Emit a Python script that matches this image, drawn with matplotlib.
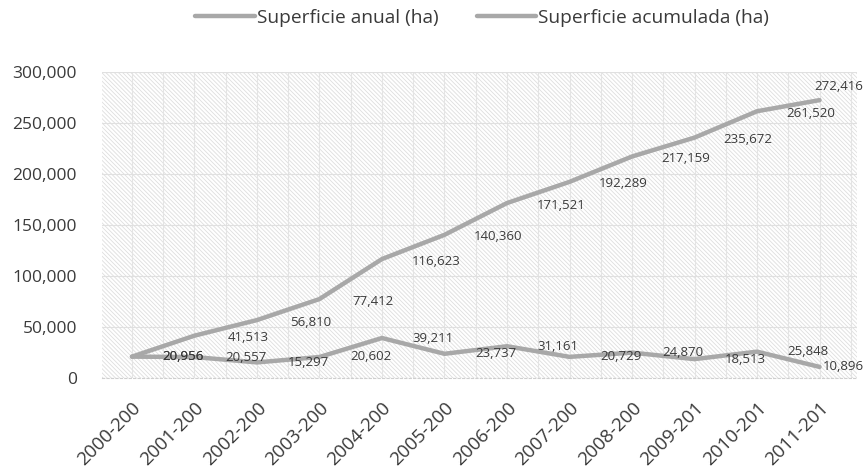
import matplotlib
matplotlib.use("Agg")
import matplotlib.pyplot as plt
from matplotlib.patches import Rectangle
from matplotlib.ticker import FuncFormatter, MultipleLocator

# data
periodos = ["2000-200", "2001-200", "2002-200", "2003-200", "2004-200", "2005-200",
            "2006-200", "2007-200", "2008-200", "2009-201", "2010-201", "2011-201"]
anual = [20956, 20557, 15297, 20602, 39211, 23737, 31161, 20729, 24870, 18513, 25848, 10896]
acumulada = [20956, 41513, 56810, 77412, 116623, 140360, 171521, 192289, 217159,
             235672, 261520, 272416]

plt.rcParams["font.family"] = ["Open Sans", "DejaVu Sans"]
plt.rcParams["hatch.linewidth"] = 0.6

gris = "#a8a8a8"
texto = "#3a3a3a"

fig = plt.figure(figsize=(8.67, 4.69), dpi=100)
ax = fig.add_axes([0.1176, 0.194, 0.8709, 0.6525])

# hatched plot background
fondo = Rectangle((0, 0), 1, 1, transform=ax.transAxes, facecolor="white",
                  edgecolor="#dedede", hatch="\\" * 8, lw=0, zorder=0)
ax.add_patch(fondo)

x = list(range(len(periodos)))
l1, = ax.plot(x, anual, color=gris, lw=3.2, solid_capstyle="round", zorder=3)
l2, = ax.plot(x, acumulada, color=gris, lw=3.2, solid_capstyle="round", zorder=3)

# data labels sit to the right of each point, like in the original
n = len(x)
for i, v in enumerate(anual):
    if i < n - 1:
        ax.text(i + 0.82, v, f"{v:,}", ha="center", va="center", fontsize=9.5, color=texto, zorder=4)
    else:
        ax.text(i + 0.05, v, f"{v:,}", ha="left", va="center", fontsize=9.5, color=texto, zorder=4)
for i, v in enumerate(acumulada):
    if i == 0:
        ax.text(i + 0.82, v, f"{v:,}", ha="center", va="center", fontsize=9.5, color=texto, zorder=4)
    elif i < n - 1:
        ax.text(i + 0.86, v - 2000, f"{v:,}", ha="center", va="center", fontsize=9.5, color=texto, zorder=4)
    else:
        ax.text(i - 0.08, v + 13000, f"{v:,}", ha="left", va="center", fontsize=9.5, color=texto, zorder=4)

ax.set_xlim(-0.48, 11.6)
ax.set_ylim(0, 300000)
ax.yaxis.set_major_locator(MultipleLocator(50000))
ax.yaxis.set_major_formatter(FuncFormatter(lambda v, p: f"{int(v):,}"))
ax.set_xticks(x)
ax.set_xticklabels(periodos, rotation=45, ha="right", va="top", rotation_mode="anchor")
ax.xaxis.set_minor_locator(MultipleLocator(0.5))

ax.grid(True, which="major", axis="y", color="#e0e0e0", lw=0.8, zorder=1)
ax.grid(True, which="both", axis="x", color="#e4e4e4", lw=0.8, zorder=1)
ax.set_axisbelow(True)

for s in ["top", "right", "left"]:
    ax.spines[s].set_visible(False)
ax.spines["bottom"].set_color("#cfcfcf")
ax.spines["bottom"].set_linestyle((0, (2, 2)))

ax.tick_params(axis="y", length=0, pad=18, labelsize=12.5, labelcolor=texto)
ax.tick_params(axis="x", which="both", length=0, pad=15, labelsize=13.5, labelcolor=texto)

fig.legend([l1, l2], ["Superficie anual (ha)", "Superficie acumulada (ha)"],
           loc="center", bbox_to_anchor=(0.556, 0.962), ncol=2, frameon=False,
           fontsize=13.8, handlelength=3.1, handletextpad=0.1, columnspacing=2.0,
           labelcolor=texto)

fig.savefig("out.png", dpi=100)
